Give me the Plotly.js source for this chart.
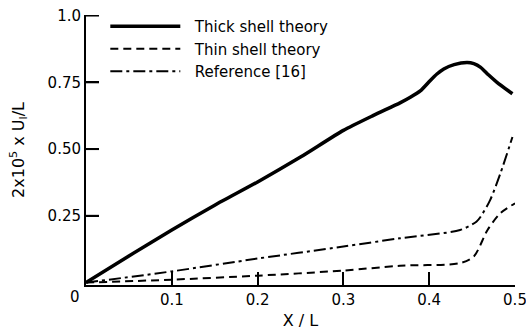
<!DOCTYPE html>
<html><head><meta charset="utf-8">
<script src="https://cdn.plot.ly/plotly-3.0.1.min.js"></script>
<style>html,body{margin:0;padding:0;background:#fff}#chart{width:526px;height:330px}</style>
</head><body><div id="chart"></div>
<script>
const thickX = [0, 0.05, 0.1, 0.15, 0.2, 0.25, 0.3, 0.335, 0.366, 0.378, 0.39, 0.401, 0.409, 0.417, 0.429, 0.444, 0.452, 0.46, 0.469, 0.479, 0.497];
const thickY = [0, 0.10, 0.197, 0.29, 0.377, 0.47, 0.57, 0.626, 0.673, 0.694, 0.719, 0.756, 0.781, 0.800, 0.816, 0.824, 0.820, 0.806, 0.778, 0.750, 0.707];
const thinX = [0, 0.1, 0.2, 0.3, 0.366, 0.436, 0.452, 0.468, 0.483, 0.5];
const thinY = [0, 0.011, 0.026, 0.045, 0.063, 0.073, 0.098, 0.197, 0.26, 0.297];
const refX = [0, 0.1, 0.2, 0.3, 0.366, 0.436, 0.455, 0.46, 0.471, 0.483, 0.497];
const refY = [0, 0.042, 0.09, 0.135, 0.166, 0.197, 0.228, 0.247, 0.309, 0.409, 0.545];
const names = ["Thick shell theory", "Thin shell theory", "Reference [16]"];
const xTicks = [0.1, 0.2, 0.3, 0.4, 0.5];
const xTickText = ["0.1", "0.2", "0.3", "0.4", "0.5"];
const yTicks = [0.25, 0.5, 0.75, 1.0];
const yTickText = ["0.25", "0.50", "0.75", "1.0"];

const fam = "DejaVu Sans, sans-serif";
const tickFont = {family: fam, size: 15, color: "#000"};
const titleFont = {family: fam, size: 16, color: "#000"};
const pad = "\u00a0\u00a0";
const traces = [
  {x: thickX, y: thickY, name: pad + names[0], mode: "lines", line: {color: "#000", width: 3.5, shape: "spline", smoothing: 0.6}},
  {x: thinX, y: thinY, name: pad + names[1], mode: "lines", line: {color: "#000", width: 2, dash: "8px,5px", shape: "spline", smoothing: 0.8}},
  {x: refX, y: refY, name: pad + names[2], mode: "lines", line: {color: "#000", width: 2, dash: "12px,4px,3px,4px", shape: "spline", smoothing: 0.8}}
];
// inward tick marks on the y axis, positioned via the axis scale (yref 'y')
const tickFrac = 13 / 429;
const yTickShapes = yTicks.map(function (v) {
  return {type: "line", xref: "paper", yref: "y", x0: 0, x1: tickFrac, y0: v, y1: v, layer: "above", line: {color: "#000", width: 2}};
});
const layout = {
  width: 526, height: 330, margin: {l: 86, r: 11, t: 14, b: 45},
  paper_bgcolor: "#fff", plot_bgcolor: "#fff", font: tickFont, showlegend: true,
  legend: {x: 0.045, y: 1.015, xanchor: "left", yanchor: "top", bgcolor: "rgba(0,0,0,0)", itemwidth: 70, font: tickFont},
  xaxis: {range: [0, 0.5], tickvals: xTicks, ticktext: xTickText, ticks: "inside", ticklen: 13, tickwidth: 2, tickcolor: "#000",
          ticklabeloverflow: "allow", showline: true, linewidth: 2, linecolor: "#000", showgrid: false, zeroline: false, tickfont: tickFont,
          title: {text: "X / L", font: titleFont, standoff: 8}},
  yaxis: {range: [-0.009, 1.002], tickvals: yTicks, ticktext: yTickText, ticks: "inside", ticklen: 13, tickwidth: 2, tickcolor: "#000",
          ticklabeloverflow: "allow", showline: true, linewidth: 2, linecolor: "#000", showgrid: false, zeroline: false, tickfont: tickFont,
          title: {text: "2x10<sup>5</sup> x U<sub>l</sub>/L", font: titleFont, standoff: 19}},
  shapes: yTickShapes,
  annotations: [{x: 0, y: 0, xref: "x", yref: "y", text: "0", showarrow: false, xanchor: "right", yanchor: "top", xshift: -4, yshift: -3, font: tickFont}]
};
Plotly.newPlot("chart", traces, layout, {staticPlot: true, displayModeBar: false});
</script></body></html>
